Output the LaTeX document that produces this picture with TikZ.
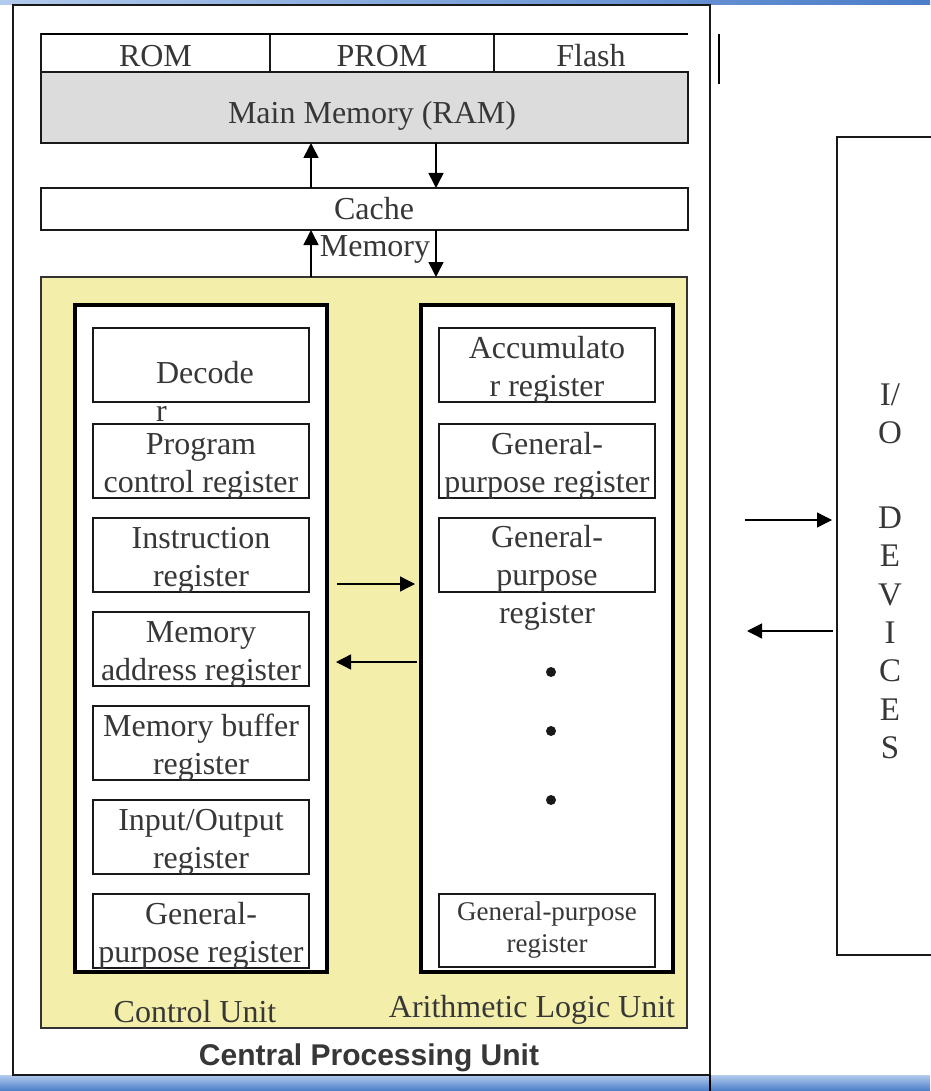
\documentclass[tikz,border=0pt]{standalone}
\usepackage{fontspec}
\setmainfont{Liberation Serif}
\newfontfamily\cpusansfont{Liberation Sans}
\usetikzlibrary{arrows.meta}
\definecolor{cpuyellow}{RGB}{243,239,170}
\definecolor{ramgray}{RGB}{220,220,220}
\definecolor{inkgray}{RGB}{55,55,55}
\definecolor{slidepale}{RGB}{178,202,236}
\definecolor{slideblue}{RGB}{74,124,200}
\newcommand{\regsize}{\fontsize{32}{38}\selectfont}
\newcommand{\gpsize}{\fontsize{27}{32}\selectfont}
\newcommand{\iosize}{\fontsize{33}{38.3}\selectfont}

\begin{document}
\begin{tikzpicture}[x=1pt,y=-1pt,
  txt/.style={text=inkgray,font=\regsize,inner sep=0pt,outer sep=0pt,align=center},
  box/.style={draw=black!90,line width=1.4pt,inner sep=0pt,outer sep=0pt,anchor=north west},
  reg/.style={box,fill=white,minimum width=216pt,minimum height=74pt},
  regtxt/.style={txt,yshift=-5pt},
  unit/.style={draw=black,line width=3.5pt,fill=white,inner sep=0pt,outer sep=0pt,anchor=north west,minimum width=252pt,minimum height=667pt},
  arr/.style={-{Triangle[length=15pt,width=15pt]},line width=1.6pt},
  harr/.style={-{Triangle[length=15pt,width=15pt]},line width=1.3pt}]
\useasboundingbox (0,0) rectangle (930,1091);
\fill[white] (0,0) rectangle (930,1091);
% slide strips
\shade[left color=slidepale,right color=slideblue] (0,0) rectangle (930,5);
\shade[top color=slidepale,bottom color=slideblue] (0,1075) rectangle (930,1091);
\node[box,line width=1.3pt,minimum width=697pt,minimum height=1070pt] (cpu) at (13,5) {};
\draw[line width=1.3pt] (cpu.south east) -- ++(0,16);
\draw[line width=1.5pt] (719,34) -- (719,84);
% memory
\node[box,minimum width=229pt,minimum height=38pt,txt,text height=28pt] (rom) at (41,34) {ROM};
\node[box,minimum width=224pt,minimum height=38pt,txt,text height=28pt] (prom) at (270,34) {PROM};
\node[box,draw=none,minimum width=194pt,minimum height=38pt,txt,text height=28pt] (flash) at (494,34) {Flash};
\draw[line width=1.4pt] (flash.south west) -- (flash.south east);
\draw[line width=2.2pt] (rom.north west) -- (flash.north east);
\node[box,line width=2pt,fill=ramgray,minimum width=647pt,minimum height=71pt] (ram) at (41,72) {};
\node[txt] (ramtxt) at (372,116) {Main Memory (RAM)};
\node[box,line width=1.8pt,fill=white,minimum width=647pt,minimum height=42pt] (cache) at (41,188) {};
\node[txt] (cachetxt) at (374,209) {Cache};
\node[txt] (memtxt) at (375,249) {Memory};
\node[box,line width=1.5pt,draw=black!80,fill=cpuyellow,minimum width=646pt,minimum height=751pt] (cpuarea) at (41,277) {};
\coordinate (upx) at (311,0);
\coordinate (dnx) at (436,0);
\draw[arr] (cache.north -| upx) -- (ram.south -| upx);
\draw[arr] (ram.south -| dnx) -- (cache.north -| dnx);
\draw[arr] (cpuarea.north -| upx) -- (cache.south -| upx);
\draw[arr] (cache.south -| dnx) -- (cpuarea.north -| dnx);
% control unit
\node[unit] (cu) at (75,305) {};
\node[reg] (dec) at (93,328) {};
\node[reg] (pcr) at (93,424) {};
\node[reg] (ir) at (93,518) {};
\node[reg] (mar) at (93,612) {};
\node[reg] (mbr) at (93,706) {};
\node[reg] (ior) at (93,800) {};
\node[reg] (gpl) at (93,894) {};
\node[txt,align=left] (dectxt) at (205,391) {Decode\\r};
\node[regtxt] (pcrtxt) at (pcr.center) {Program\\control register};
\node[regtxt] (irtxt) at (ir.center) {Instruction\\register};
\node[regtxt] (martxt) at (mar.center) {Memory\\address register};
\node[regtxt] (mbrtxt) at (mbr.center) {Memory buffer\\register};
\node[regtxt] (iortxt) at (ior.center) {Input/Output\\register};
\node[regtxt] (gpltxt) at (gpl.center) {General-\\purpose register};
% arithmetic logic unit
\node[unit] (alu) at (421,305) {};
\node[reg] (acc) at (439,328) {};
\node[reg] (gpa) at (439,424) {};
\node[reg] (gpb) at (439,518) {};
\node[reg,minimum height=73pt] (gpc) at (439,894) {};
\node[regtxt] (acctxt) at (acc.center) {Accumulato\\r register};
\node[regtxt] (gpatxt) at (gpa.center) {General-\\purpose register};
\node[txt] (gpbtxt) at (547,578) {General-\\purpose\\register};
\node[txt,font=\gpsize] (gpctxt) at (gpc.center) {General-purpose\\register};
\foreach \y in {672,731,800} \fill[black!90] (551,\y) circle (5pt);
\coordinate (toalu) at (0,584);
\coordinate (tocu) at (0,662);
\draw[harr,shorten <=10pt,shorten >=6pt] (cu.east |- toalu) -- (alu.west |- toalu);
\draw[harr,shorten <=4pt,shorten >=9pt] (alu.west |- tocu) -- (cu.east |- tocu);
\node[txt,anchor=base] (cutxt) at (195,1022) {Control Unit};
\node[txt,anchor=base] (alutxt) at (532,1017) {Arithmetic Logic Unit};
\node[txt,anchor=base,font=\cpusansfont\bfseries\fontsize{30}{36}\selectfont] (cputxt) at (369,1065) {Central Processing Unit};
% i/o devices
\node[box,line width=1.4pt,minimum width=130pt,minimum height=818pt] (io) at (837,137) {};
\node[txt,font=\iosize] (iotxt) at (890,571) {I/\\O\\[47pt]D\\E\\V\\I\\C\\E\\S};
\coordinate (toio) at (0,520);
\coordinate (fromio) at (0,631);
\draw[harr,shorten <=35pt,shorten >=5pt] (cpu.east |- toio) -- (io.west |- toio);
\draw[harr,shorten <=4pt,shorten >=37pt] (io.west |- fromio) -- (cpu.east |- fromio);
\end{tikzpicture}
\end{document}
